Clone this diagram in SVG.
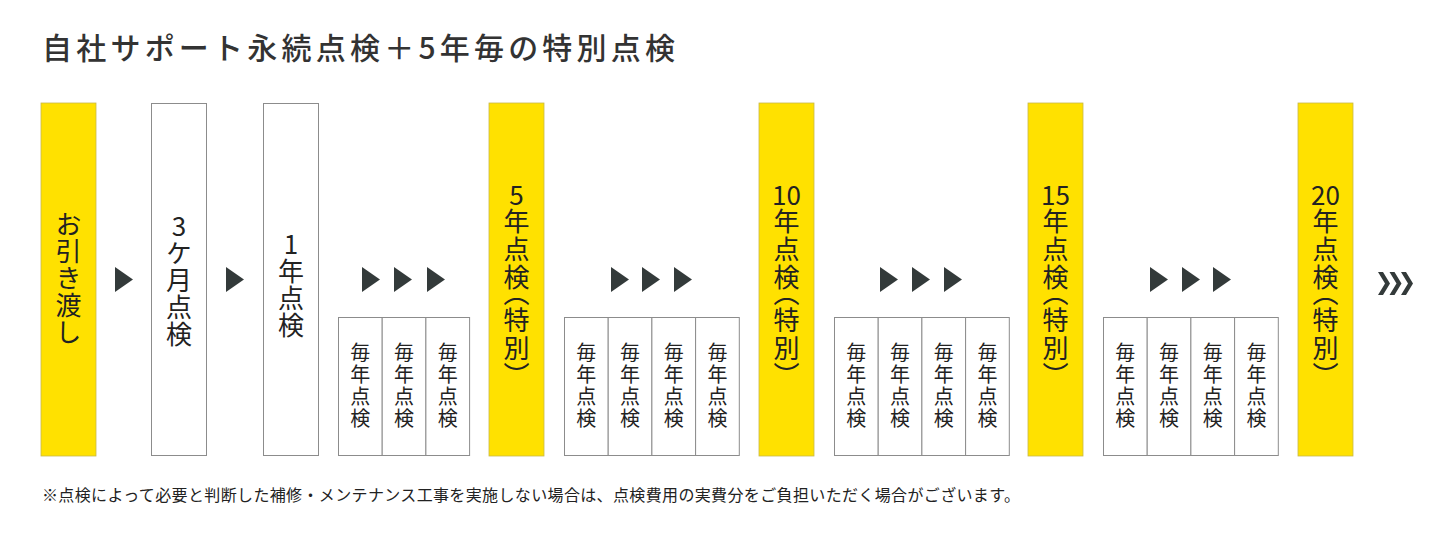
<svg xmlns="http://www.w3.org/2000/svg" width="1440" height="540" viewBox="0 0 1440 540">
<style>
.bg{fill:#ffffff}
.y{fill:#ffe100;stroke:#c9b84a;stroke-width:0.8}
.w{fill:#ffffff;stroke:#8c8c8c;stroke-width:1}
.t{font-family:"Noto Sans CJK JP","Noto Sans",sans-serif;fill:#222222}
.tall{font-size:26px;writing-mode:vertical-rl;text-orientation:upright;letter-spacing:1px}
.sp{font-feature-settings:"vpal" 1;letter-spacing:2px}
.num{font-size:26px}
.small{font-size:20px;writing-mode:vertical-rl;text-orientation:upright;letter-spacing:2px}
.title{font-size:30px;font-weight:500;fill:#333333}
.note{font-size:16px;fill:#222222}
.arr{fill:#333a3a}
.chev{fill:#333a3a}
</style>
<defs>
<path id="tri" d="M0 0 L18 12.5 L0 25 Z"/>
<path id="chv" d="M0 0 L5 0 L12 11.5 L5 23 L0 23 L7 11.5 Z"/>
</defs>
<rect class="bg" x="0" y="0" width="1440" height="540"/>
<text class="t title" x="42" y="59" textLength="633" lengthAdjust="spacing">自社サポート永続点検＋5年毎の特別点検</text>

<g id="n-handover"><rect class="y" x="41" y="103" width="55" height="353"/><text class="t tall" x="68.5" y="279" text-anchor="middle">お引き渡し</text></g>
<g id="n-3m"><rect class="w" x="151.5" y="103.5" width="55" height="352"/><text class="t tall" x="179" y="281" text-anchor="middle">3ケ月点検</text></g>
<g id="n-1y"><rect class="w" x="263.5" y="103.5" width="55" height="352"/><text class="t tall" x="291" y="285" text-anchor="middle">1年点検</text></g>

<g id="n-annual1">
<rect class="w" x="338.5" y="317.5" width="43.7" height="138"/>
<rect class="w" x="382.2" y="317.5" width="43.7" height="138"/>
<rect class="w" x="425.9" y="317.5" width="43.7" height="138"/>
<text class="t small" x="360.3" y="386.5" text-anchor="middle">毎年点検</text>
<text class="t small" x="404" y="386.5" text-anchor="middle">毎年点検</text>
<text class="t small" x="447.7" y="386.5" text-anchor="middle">毎年点検</text>
</g>
<g id="n-5y"><rect class="y" x="489" y="103" width="55" height="353"/><text class="t num" x="516.5" y="205" text-anchor="middle">5</text><text class="t tall sp" x="516.5" y="293" text-anchor="middle">年点検（特別）</text></g>

<g id="n-annual2">
<rect class="w" x="564.5" y="317.5" width="43.7" height="138"/>
<rect class="w" x="608.2" y="317.5" width="43.7" height="138"/>
<rect class="w" x="651.9" y="317.5" width="43.7" height="138"/>
<rect class="w" x="695.6" y="317.5" width="43.7" height="138"/>
<text class="t small" x="586.3" y="386.5" text-anchor="middle">毎年点検</text>
<text class="t small" x="630" y="386.5" text-anchor="middle">毎年点検</text>
<text class="t small" x="673.7" y="386.5" text-anchor="middle">毎年点検</text>
<text class="t small" x="717.4" y="386.5" text-anchor="middle">毎年点検</text>
</g>
<g id="n-10y"><rect class="y" x="759" y="103" width="55" height="353"/><text class="t num" x="786.5" y="205" text-anchor="middle">10</text><text class="t tall sp" x="786.5" y="293" text-anchor="middle">年点検（特別）</text></g>

<g id="n-annual3">
<rect class="w" x="834.5" y="317.5" width="43.7" height="138"/>
<rect class="w" x="878.2" y="317.5" width="43.7" height="138"/>
<rect class="w" x="921.9" y="317.5" width="43.7" height="138"/>
<rect class="w" x="965.6" y="317.5" width="43.7" height="138"/>
<text class="t small" x="856.3" y="386.5" text-anchor="middle">毎年点検</text>
<text class="t small" x="900" y="386.5" text-anchor="middle">毎年点検</text>
<text class="t small" x="943.7" y="386.5" text-anchor="middle">毎年点検</text>
<text class="t small" x="987.4" y="386.5" text-anchor="middle">毎年点検</text>
</g>
<g id="n-15y"><rect class="y" x="1028" y="103" width="55" height="353"/><text class="t num" x="1055.5" y="205" text-anchor="middle">15</text><text class="t tall sp" x="1055.5" y="293" text-anchor="middle">年点検（特別）</text></g>

<g id="n-annual4">
<rect class="w" x="1103.5" y="317.5" width="43.7" height="138"/>
<rect class="w" x="1147.2" y="317.5" width="43.7" height="138"/>
<rect class="w" x="1190.9" y="317.5" width="43.7" height="138"/>
<rect class="w" x="1234.6" y="317.5" width="43.7" height="138"/>
<text class="t small" x="1125.3" y="386.5" text-anchor="middle">毎年点検</text>
<text class="t small" x="1169" y="386.5" text-anchor="middle">毎年点検</text>
<text class="t small" x="1212.7" y="386.5" text-anchor="middle">毎年点検</text>
<text class="t small" x="1256.4" y="386.5" text-anchor="middle">毎年点検</text>
</g>
<g id="n-20y"><rect class="y" x="1298" y="103" width="55" height="353"/><text class="t num" x="1325.5" y="205" text-anchor="middle">20</text><text class="t tall sp" x="1325.5" y="293" text-anchor="middle">年点検（特別）</text></g>

<g id="connectors">
<use href="#tri" class="arr" x="115" y="267"/>
<use href="#tri" class="arr" x="226" y="267"/>
<use href="#tri" class="arr" x="362" y="267"/>
<use href="#tri" class="arr" x="394" y="267"/>
<use href="#tri" class="arr" x="427" y="267"/>
<use href="#tri" class="arr" x="611" y="267"/>
<use href="#tri" class="arr" x="642" y="267"/>
<use href="#tri" class="arr" x="674" y="267"/>
<use href="#tri" class="arr" x="880" y="267"/>
<use href="#tri" class="arr" x="912" y="267"/>
<use href="#tri" class="arr" x="944" y="267"/>
<use href="#tri" class="arr" x="1150" y="267"/>
<use href="#tri" class="arr" x="1182" y="267"/>
<use href="#tri" class="arr" x="1213" y="267"/>
<use href="#chv" class="chev" x="1378" y="272"/>
<use href="#chv" class="chev" x="1389.5" y="272"/>
<use href="#chv" class="chev" x="1401" y="272"/>
</g>

<text class="t note" x="42" y="501" textLength="978" lengthAdjust="spacing">※点検によって必要と判断した補修・メンテナンス工事を実施しない場合は、点検費用の実費分をご負担いただく場合がございます。</text>
</svg>
